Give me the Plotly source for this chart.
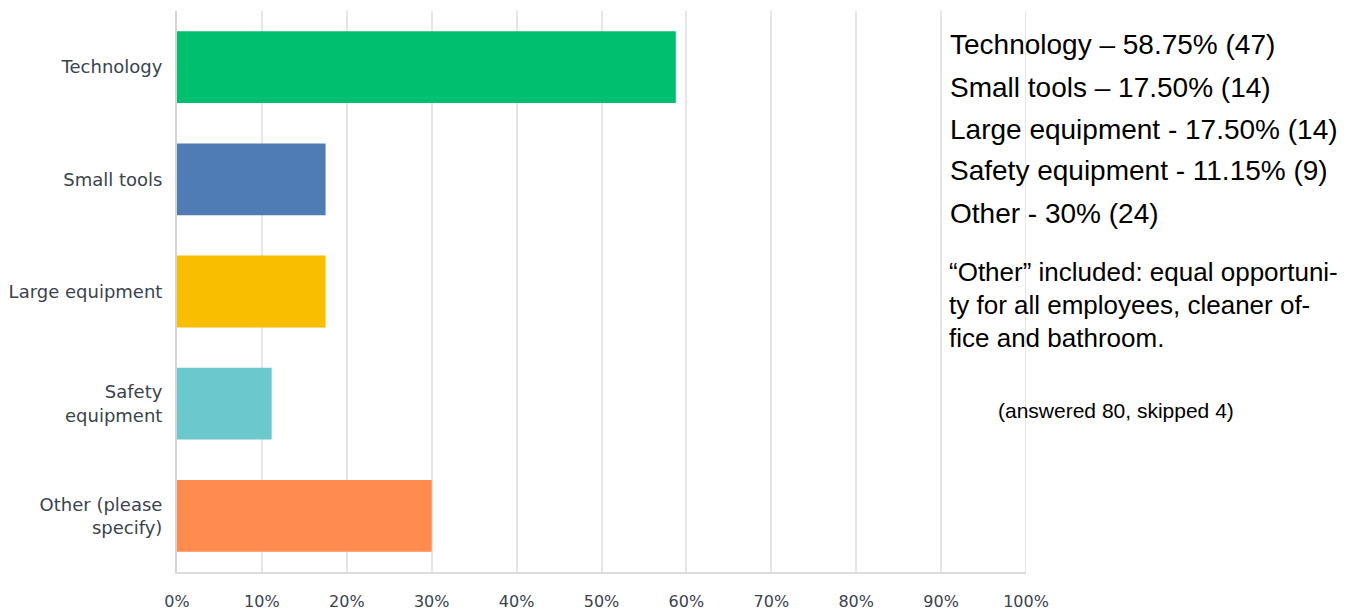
import plotly.graph_objects as go

# Survey responses: share of respondents per category (percent)
categories = ["Technology", "Small tools", "Large equipment",
              "Safety<br>equipment", "Other (please<br>specify)"]
percents = [58.75, 17.50, 17.50, 11.15, 30.0]
bar_colors = ["#00BF6F", "#507CB6", "#F9BE00", "#6BC8CD", "#FF8B4F"]

tick_vals = [0, 10, 20, 30, 40, 50, 60, 70, 80, 90, 100]
tick_text = [f"{v}%" for v in tick_vals]

summary_lines = [
    "Technology – 58.75% (47)",
    "Small tools – 17.50% (14)",
    "Large equipment - 17.50% (14)",
    "Safety equipment - 11.15% (9)",
    "Other - 30% (24)",
]
other_note = ["“Other” included: equal opportuni-",
              "ty for all employees, cleaner of-",
              "fice and bathroom."]
response_note = "(answered 80, skipped 4)"

fig = go.Figure(
    go.Bar(
        x=percents,
        y=categories,
        orientation="h",
        marker=dict(color=bar_colors, line=dict(width=0)),
        width=0.64,
        hoverinfo="x+y",
    )
)

label_font = dict(family="DejaVu Sans", size=18, color="#3A434C")
tick_font = dict(family="DejaVu Sans", size=16, color="#3A434C")

fig.update_layout(
    width=1357,
    height=611,
    margin=dict(l=177, r=331, t=11, b=39),
    paper_bgcolor="white",
    plot_bgcolor="white",
    showlegend=False,
    bargap=0.36,
    xaxis=dict(
        range=[0, 100],
        tickvals=tick_vals,
        ticktext=tick_text,
        showgrid=True,
        gridcolor="#E6E6E6",
        gridwidth=2,
        zeroline=False,
        showline=True,
        linecolor="#DCDCDC",
        linewidth=2,
        ticks="",
        ticklabelstandoff=14,
        tickfont=tick_font,
        automargin=False,
        fixedrange=True,
    ),
    yaxis=dict(
        autorange="reversed",
        showgrid=False,
        zeroline=False,
        showline=True,
        linecolor="#D5D5D5",
        linewidth=2,
        ticks="",
        ticklabelstandoff=9,
        tickfont=label_font,
        automargin=False,
        fixedrange=True,
    ),
)

# Closing gridline at 100%
fig.add_shape(type="line", xref="x", yref="paper", x0=100, x1=100, y0=0, y1=1,
              line=dict(color="#E6E6E6", width=2), layer="below")

# Summary text block to the right of the bars
annotations = []
for i, line in enumerate(summary_lines):
    annotations.append(dict(
        x=948, y=45 + 42 * i, xref="paper", yref="paper", text=line,
        showarrow=False, xanchor="left", yanchor="middle",
        font=dict(family="Liberation Sans", size=28, color="black"),
    ))
for i, line in enumerate(other_note):
    annotations.append(dict(
        x=947, y=272 + 33 * i, xref="paper", yref="paper", text=line,
        showarrow=False, xanchor="left", yanchor="middle",
        font=dict(family="Liberation Sans", size=26, color="black"),
    ))
annotations.append(dict(
    x=996, y=410, xref="paper", yref="paper", text=response_note,
    showarrow=False, xanchor="left", yanchor="middle",
    font=dict(family="Liberation Sans", size=21, color="black"),
))

# Convert pixel positions to paper coordinates of the plot area
plot_left, plot_right, plot_top, plot_bottom = 177, 1357 - 331, 11, 611 - 39
for a in annotations:
    px, py = a["x"], a["y"]
    a["x"] = (px - plot_left) / (plot_right - plot_left)
    a["y"] = (plot_bottom - py) / (plot_bottom - plot_top)
fig.update_layout(annotations=annotations)

fig.write_html("out.html")
